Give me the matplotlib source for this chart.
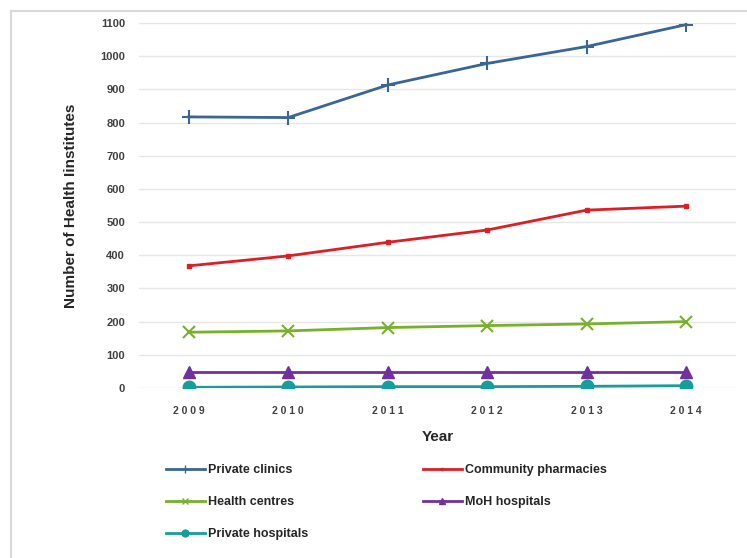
import matplotlib.pyplot as plt
from matplotlib.lines import Line2D

# number of health institutes per year
years = [2009, 2010, 2011, 2012, 2013, 2014]
private_clinics = [817, 815, 913, 978, 1029, 1095]
community_pharmacies = [368, 398, 439, 476, 536, 548]
health_centres = [168, 172, 182, 188, 193, 200]
moh_hospitals = [48, 48, 48, 48, 48, 48]
private_hospitals = [2, 3, 4, 4, 5, 7]

plt.rcParams['font.family'] = ['Liberation Sans', 'DejaVu Sans']

fig = plt.figure(figsize=(7.47, 5.58), dpi=100)
ax = fig.add_axes([0.186, 0.3047, 0.799, 0.6541])

series = [
    ('Private clinics', private_clinics, '#3A6594', '+', 10, 1.5),
    ('Community pharmacies', community_pharmacies, '#DA1F26', 's', 3, 1),
    ('Health centres', health_centres, '#78B02A', 'x', 9, 1.5),
    ('MoH hospitals', moh_hospitals, '#7030A0', '^', 9, 1),
    ('Private hospitals', private_hospitals, '#159E9B', 'o', 9, 1),
]
handles = {}
for name, vals, color, marker, ms, mew in series:
    ax.plot(years, vals, color=color, lw=2, marker=marker,
            markersize=ms, markeredgewidth=mew,
            markeredgecolor=color, markerfacecolor=color, label=name)
    handles[name] = Line2D([], [], color=color, lw=2, marker=marker,
                           markersize=ms * 0.55, markeredgecolor=color,
                           markerfacecolor=color)

ax.set_xlim(2008.5, 2014.5)
ax.set_ylim(0, 1100)
ax.set_yticks(range(0, 1101, 100))
ax.set_xticks(years)
ax.set_xticklabels([' '.join(str(y)) for y in years])
ax.grid(axis='y', color='#E6E6E6', lw=1)
ax.set_axisbelow(True)
for s in ax.spines.values():
    s.set_visible(False)
ax.tick_params(length=0)
ax.tick_params(axis='y', labelsize=8, labelcolor='#404040', pad=10)
ax.tick_params(axis='x', labelsize=7.5, labelcolor='#404040', pad=13)
for t in ax.get_xticklabels() + ax.get_yticklabels():
    t.set_fontweight('bold')

ax.set_ylabel('Number of Health Iinstitutes', fontsize=11, fontweight='bold',
              color='#262626', labelpad=16)
ax.set_xlabel('Year', fontsize=11, fontweight='bold', color='#262626', labelpad=10)

order = ['Private clinics', 'Health centres', 'Private hospitals',
         'Community pharmacies', 'MoH hospitals']
fig.legend([handles[n] for n in order], order, ncol=2, frameon=False,
           loc='upper left', bbox_to_anchor=(0.207, 0.188),
           prop={'size': 9, 'weight': 'bold'}, handlelength=3.1,
           handletextpad=0.25, columnspacing=9.2, labelspacing=1.6,
           labelcolor='#262626')

# light frame along top and left edges
fig.add_artist(Line2D([11 / 747, 1], [1 - 11 / 558, 1 - 11 / 558],
                      transform=fig.transFigure, color='#D9D9D9', lw=1.5))
fig.add_artist(Line2D([11 / 747, 11 / 747], [0, 1 - 11 / 558],
                      transform=fig.transFigure, color='#D9D9D9', lw=1.5))

fig.savefig('out.png', dpi=100)
